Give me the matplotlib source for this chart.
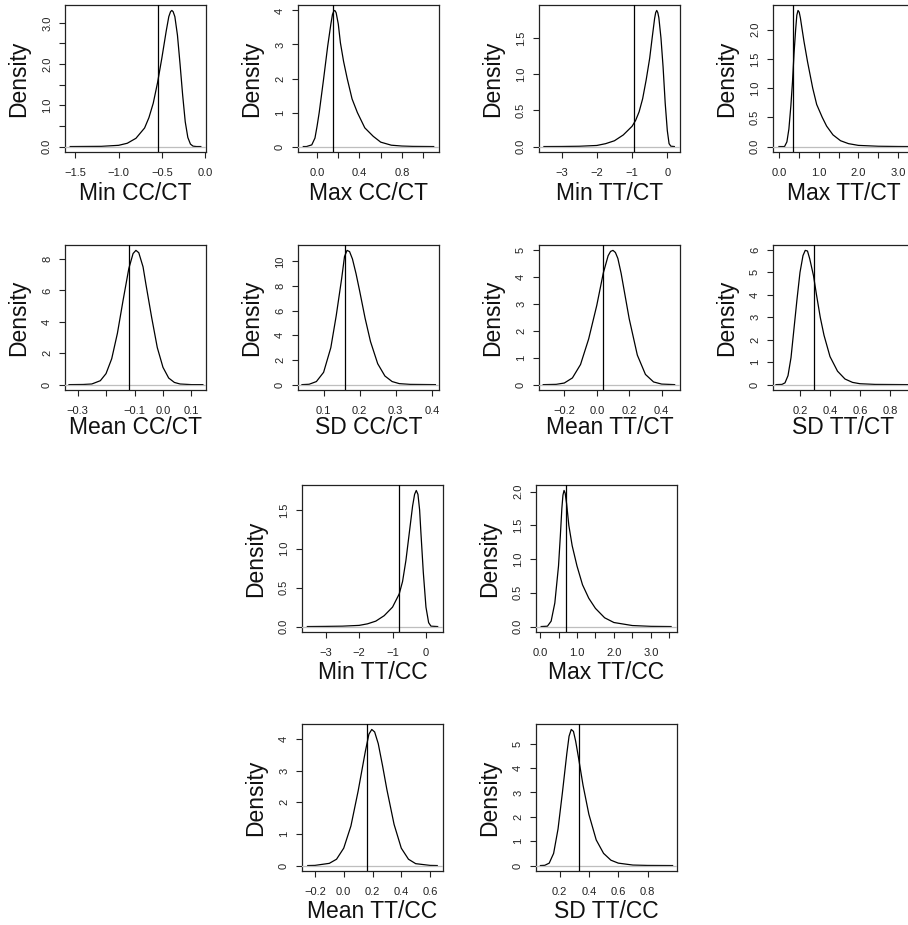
import matplotlib
matplotlib.use("Agg")
import matplotlib.pyplot as plt

plt.rcParams['font.family'] = ['Liberation Sans', 'DejaVu Sans']

# Panel titles (x-axis labels)
names = ["Min CC/CT", "Max CC/CT", "Min TT/CT", "Max TT/CT",
         "Mean CC/CT", "SD CC/CT", "Mean TT/CT", "SD TT/CT",
         "Min TT/CC", "Max TT/CC", "Mean TT/CC", "SD TT/CC"]

# Density curves
min_cc_ct_x = [-1.56, -1.2, -1.0, -0.9, -0.8, -0.7, -0.65, -0.6, -0.55, -0.5, -0.45, -0.42,
               -0.4, -0.385, -0.37, -0.35, -0.32, -0.29, -0.26, -0.23, -0.2, -0.17, -0.14,
               -0.1, -0.05]
min_cc_ct_y = [0.0, 0.005, 0.03, 0.08, 0.2, 0.45, 0.7, 1.05, 1.55, 2.15, 2.8, 3.15,
               3.27, 3.3, 3.27, 3.15, 2.7, 2.0, 1.25, 0.6, 0.22, 0.06, 0.01,
               0.0, 0.0]

max_cc_ct_x = [-0.13, -0.1, -0.05, -0.02, 0.0, 0.02, 0.06, 0.1, 0.13, 0.145, 0.16, 0.17,
               0.18, 0.2, 0.22, 0.25, 0.284, 0.33, 0.38, 0.45, 0.53, 0.6, 0.7, 0.8, 0.9, 1.1]
max_cc_ct_y = [0.0, 0.0, 0.05, 0.25, 0.6, 1.0, 1.95, 2.95, 3.6, 3.88, 4.0, 3.99,
               3.93, 3.6, 3.05, 2.5, 2.0, 1.4, 1.0, 0.55, 0.3, 0.13, 0.04, 0.015, 0.005, 0.0]

min_tt_ct_x = [-3.5, -3.0, -2.5, -2.0, -1.75, -1.5, -1.25, -1.0, -0.9, -0.8, -0.7, -0.6, -0.5,
               -0.43, -0.36, -0.33, -0.3, -0.27, -0.24, -0.18, -0.12, -0.06, 0.0, 0.05, 0.1, 0.2]
min_tt_ct_y = [0.0, 0.001, 0.004, 0.015, 0.04, 0.08, 0.16, 0.28, 0.36, 0.48, 0.66, 0.92, 1.22,
               1.5, 1.77, 1.85, 1.88, 1.85, 1.78, 1.5, 1.1, 0.6, 0.22, 0.04, 0.005, 0.0]

max_tt_ct_x = [0.0, 0.14, 0.2, 0.25, 0.3, 0.34, 0.38, 0.42, 0.45, 0.48, 0.51, 0.54, 0.58,
               0.63, 0.72, 0.85, 0.95, 1.09, 1.2, 1.36, 1.55, 1.75, 2.0, 2.5, 3.0, 3.3]
max_tt_ct_y = [0.0, 0.0, 0.08, 0.3, 0.7, 1.1, 1.6, 2.0, 2.25, 2.33, 2.3, 2.2, 2.02,
               1.8, 1.45, 1.0, 0.72, 0.5, 0.35, 0.2, 0.1, 0.05, 0.02, 0.005, 0.001, 0.0]

mean_cc_ct_x = [-0.33, -0.28, -0.25, -0.22, -0.2, -0.18, -0.16, -0.14, -0.12, -0.105, -0.095,
                -0.085, -0.07, -0.06, -0.04, -0.02, 0.0, 0.02, 0.04, 0.06, 0.1, 0.14]
mean_cc_ct_y = [0.0, 0.01, 0.04, 0.25, 0.7, 1.65, 3.27, 5.38, 7.39, 8.35, 8.55,
                8.4, 7.5, 6.4, 4.3, 2.36, 1.1, 0.42, 0.14, 0.04, 0.0, 0.0]

sd_cc_ct_x = [0.04, 0.06, 0.08, 0.1, 0.12, 0.135, 0.15, 0.158, 0.165, 0.172, 0.18, 0.19,
              0.2, 0.215, 0.23, 0.25, 0.27, 0.29, 0.31, 0.34, 0.41]
sd_cc_ct_y = [0.0, 0.03, 0.25, 1.0, 3.0, 5.6, 8.6, 10.4, 10.9, 10.8, 10.2, 9.0,
              7.6, 5.4, 3.5, 1.7, 0.7, 0.25, 0.08, 0.02, 0.0]

mean_tt_ct_x = [-0.33, -0.25, -0.2, -0.15, -0.1, -0.05, 0.0, 0.04, 0.07, 0.085, 0.1, 0.115,
                0.13, 0.15, 0.2, 0.25, 0.3, 0.35, 0.4, 0.48]
mean_tt_ct_y = [0.0, 0.01, 0.06, 0.25, 0.75, 1.7, 2.95, 4.15, 4.8, 4.96, 5.0, 4.92,
                4.7, 4.15, 2.45, 1.1, 0.38, 0.1, 0.02, 0.0]

sd_tt_ct_x = [0.04, 0.08, 0.1, 0.12, 0.14, 0.16, 0.18, 0.2, 0.22, 0.235, 0.25, 0.265, 0.29,
              0.31, 0.335, 0.36, 0.4, 0.45, 0.5, 0.55, 0.6, 0.7, 0.92]
sd_tt_ct_y = [0.0, 0.01, 0.08, 0.4, 1.2, 2.5, 3.8, 5.0, 5.75, 5.98, 5.95, 5.6, 4.85,
              4.0, 3.0, 2.2, 1.25, 0.6, 0.25, 0.1, 0.04, 0.01, 0.0]

min_tt_cc_x = [-3.55, -3.0, -2.5, -2.0, -1.75, -1.5, -1.25, -1.0, -0.8, -0.7, -0.6, -0.5,
               -0.4, -0.34, -0.29, -0.24, -0.19, -0.15, -0.08, 0.0, 0.08, 0.15, 0.35]
min_tt_cc_y = [0.0, 0.002, 0.005, 0.015, 0.035, 0.07, 0.14, 0.25, 0.42, 0.58, 0.85, 1.2,
               1.55, 1.7, 1.75, 1.7, 1.5, 1.2, 0.7, 0.25, 0.05, 0.005, 0.0]

max_tt_cc_x = [0.03, 0.2, 0.3, 0.4, 0.5, 0.55, 0.59, 0.62, 0.65, 0.68, 0.72, 0.78, 0.87,
               1.0, 1.15, 1.32, 1.5, 1.75, 2.0, 2.5, 3.0, 3.55]
max_tt_cc_y = [0.0, 0.005, 0.08, 0.35, 0.9, 1.35, 1.75, 1.95, 2.02, 1.98, 1.82, 1.5, 1.2,
               0.9, 0.62, 0.42, 0.27, 0.13, 0.06, 0.015, 0.003, 0.0]

mean_tt_cc_x = [-0.25, -0.2, -0.1, -0.05, 0.0, 0.05, 0.1, 0.15, 0.175, 0.195, 0.215, 0.24,
                0.27, 0.3, 0.35, 0.4, 0.45, 0.5, 0.6, 0.65]
mean_tt_cc_y = [0.0, 0.005, 0.07, 0.2, 0.55, 1.25, 2.35, 3.6, 4.15, 4.3, 4.22, 3.85,
                3.15, 2.4, 1.3, 0.55, 0.2, 0.06, 0.005, 0.0]

sd_tt_cc_x = [0.07, 0.1, 0.13, 0.16, 0.19, 0.22, 0.25, 0.265, 0.28, 0.295, 0.31, 0.33, 0.36,
              0.4, 0.45, 0.5, 0.55, 0.6, 0.7, 0.8, 0.97]
sd_tt_cc_y = [0.0, 0.01, 0.1, 0.5, 1.5, 3.0, 4.6, 5.3, 5.58, 5.5, 5.1, 4.4, 3.3,
              2.1, 1.05, 0.5, 0.22, 0.1, 0.02, 0.005, 0.0]

curves_x = [min_cc_ct_x, max_cc_ct_x, min_tt_ct_x, max_tt_ct_x,
            mean_cc_ct_x, sd_cc_ct_x, mean_tt_ct_x, sd_tt_ct_x,
            min_tt_cc_x, max_tt_cc_x, mean_tt_cc_x, sd_tt_cc_x]
curves_y = [min_cc_ct_y, max_cc_ct_y, min_tt_ct_y, max_tt_ct_y,
            mean_cc_ct_y, sd_cc_ct_y, mean_tt_ct_y, sd_tt_ct_y,
            min_tt_cc_y, max_tt_cc_y, mean_tt_cc_y, sd_tt_cc_y]

# Observed values (vertical lines)
observed = [-0.543, 0.148, -0.95, 0.35, -0.12, 0.16, 0.041, 0.29, -0.8, 0.71, 0.162, 0.33]

# Axis ranges
xlims = [(-1.62, 0.01), (-0.18, 1.15), (-3.64, 0.36), (-0.15, 3.40),
         (-0.344, 0.151), (0.029, 0.42), (-0.356, 0.513), (0.02, 0.96),
         (-3.71, 0.51), (-0.11, 3.71), (-0.29, 0.69), (0.04, 1.0)]

# Tick positions and labels
xticks = [[-1.5, -1.0, -0.5, 0.0], [0.0, 0.2, 0.4, 0.6, 0.8, 1.0], [-3, -2, -1, 0],
          [0.0, 0.5, 1.0, 1.5, 2.0, 2.5, 3.0],
          [-0.3, -0.2, -0.1, 0.0, 0.1], [0.1, 0.2, 0.3, 0.4], [-0.2, 0.0, 0.2, 0.4],
          [0.2, 0.4, 0.6, 0.8],
          [-3, -2, -1, 0], [0.0, 0.5, 1.0, 1.5, 2.0, 2.5, 3.0, 3.5],
          [-0.2, 0.0, 0.2, 0.4, 0.6], [0.2, 0.4, 0.6, 0.8]]
xticklabels = [["−1.5", "−1.0", "−0.5", "0.0"], ["0.0", "", "0.4", "", "0.8", ""],
               ["−3", "−2", "−1", "0"], ["0.0", "", "1.0", "", "2.0", "", "3.0"],
               ["−0.3", "", "−0.1", "0.0", "0.1"], ["0.1", "0.2", "0.3", "0.4"],
               ["−0.2", "0.0", "0.2", "0.4"], ["0.2", "0.4", "0.6", "0.8"],
               ["−3", "−2", "−1", "0"], ["0.0", "", "1.0", "", "2.0", "", "3.0", ""],
               ["−0.2", "0.0", "0.2", "0.4", "0.6"], ["0.2", "0.4", "0.6", "0.8"]]
yticks = [[0, 0.5, 1, 1.5, 2, 2.5, 3], [0, 1, 2, 3, 4], [0, 0.5, 1, 1.5], [0, 0.5, 1, 1.5, 2],
          [0, 2, 4, 6, 8], [0, 2, 4, 6, 8, 10], [0, 1, 2, 3, 4, 5], [0, 1, 2, 3, 4, 5, 6],
          [0, 0.5, 1, 1.5], [0, 0.5, 1, 1.5, 2], [0, 1, 2, 3, 4], [0, 1, 2, 3, 4, 5]]
yticklabels = [["0.0", "", "1.0", "", "2.0", "", "3.0"], ["0", "1", "2", "3", "4"],
               ["0.0", "0.5", "1.0", "1.5"], ["0.0", "0.5", "1.0", "1.5", "2.0"],
               ["0", "2", "4", "6", "8"], ["0", "2", "4", "6", "8", "10"],
               ["0", "1", "2", "3", "4", "5"], ["0", "1", "2", "3", "4", "5", "6"],
               ["0.0", "0.5", "1.0", "1.5"], ["0.0", "0.5", "1.0", "1.5", "2.0"],
               ["0", "1", "2", "3", "4"], ["0", "1", "2", "3", "4", "5"]]

W, H = 908, 925
fig = plt.figure(figsize=(W / 100, H / 100), dpi=100)

# panel boxes in pixels: left, top, width, height, x-label baseline offset
boxes = [(65, 5, 141, 147, 48), (298, 5, 141, 147, 48), (539, 5, 141, 147, 48), (773, 5, 141, 147, 48),
         (65, 245, 141, 145, 44), (298, 245, 141, 145, 44), (539, 245, 141, 145, 44), (773, 245, 141, 145, 44),
         (302, 485, 141, 147, 47), (536, 485, 141, 147, 47),
         (302, 724, 141, 147, 47), (536, 724, 141, 147, 47)]

for i, (l, t, w, h, lab_off) in enumerate(boxes):
    ax = fig.add_axes([l / W, 1 - (t + h) / H, w / W, h / H])
    ax.plot(curves_x[i], curves_y[i], color='black', lw=0.9, zorder=2)
    ax.axhline(0, color='#BEBEBE', lw=0.9, zorder=3)
    ax.axvline(observed[i], color='black', lw=0.9, zorder=4)
    ymax = max(curves_y[i])
    ax.set_xlim(*xlims[i])
    ax.set_ylim(-0.04 * ymax, 1.04 * ymax)
    ax.set_xticks(xticks[i])
    ax.set_xticklabels(xticklabels[i])
    ax.set_yticks(yticks[i])
    ax.set_yticklabels(yticklabels[i], rotation=90, va='center')
    ax.tick_params(direction='out', length=4.3, width=0.8, labelsize=8, color='#222222',
                   labelcolor='#222222')
    ax.tick_params(axis='x', pad=7)
    ax.tick_params(axis='y', pad=5)
    for s in ax.spines.values():
        s.set_linewidth(0.9)
        s.set_color('#222222')
    ax.set_xlabel(names[i], fontsize=16.5, va='baseline', color='#111111')
    ax.xaxis.set_label_coords(0.5, -lab_off / h)
    ax.set_ylabel("Density", fontsize=16.5, va='baseline', color='#111111')
    ax.yaxis.set_label_coords(-40 / w, 0.5)

fig.savefig("out.png", dpi=100)
